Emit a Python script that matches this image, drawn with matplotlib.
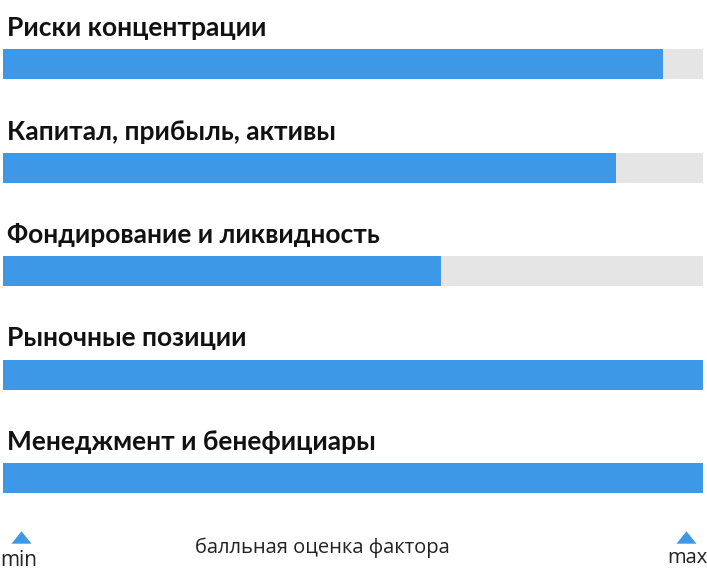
import matplotlib
matplotlib.use("Agg")
import matplotlib.pyplot as plt

# Factor scores (share of the maximum score)
factors = [
    "Риски концентрации",
    "Капитал, прибыль, активы",
    "Фондирование и ликвидность",
    "Рыночные позиции",
    "Менеджмент и бенефициары",
]
scores = [0.943, 0.876, 0.626, 1.0, 1.0]
score_max = 1.0

axis_caption = "балльная оценка фактора"
min_label = "min"
max_label = "max"

BLUE = "#3d99e8"
TRACK = "#e5e5e5"

W, H = 707, 576
fig = plt.figure(figsize=(W / 100, H / 100), dpi=100)
# axes spans the bar track horizontally; vertical units are pixels from the top
x0, x1 = 3, 703
ax = fig.add_axes([x0 / W, 0, (x1 - x0) / W, 1])
ax.set_xlim(0, score_max)
ax.set_ylim(H, 0)
ax.axis("off")


def px(x):
    """Horizontal pixel position -> axis units."""
    return (x - x0) / (x1 - x0) * score_max


bar_top0 = 49
step = 103.5
bar_h = 30

for i, (name, val) in enumerate(zip(factors, scores)):
    top = bar_top0 + i * step
    yc = top + bar_h / 2
    ax.barh(yc, score_max, height=bar_h, left=0, color=TRACK, edgecolor="none")
    ax.barh(yc, val, height=bar_h, left=0, color=BLUE, edgecolor="none")
    ax.text(px(7), top - 13, name, ha="left", va="baseline",
            fontsize=19, fontweight="bold", family=["Lato", "DejaVu Sans"],
            color="#111111")

# scale markers: triangles at both ends of the scale
tri = [(-1, -0.62), (1, -0.62), (0, 0.62)]
for xp in (21, 686):
    ax.plot([px(xp)], [536.5], marker=tri, markersize=14.4, color=BLUE,
            markeredgewidth=0, clip_on=False)

ax.text(px(19), 566, min_label, ha="center", va="baseline",
        fontsize=15, family=["Open Sans", "DejaVu Sans"], color="#222222")
ax.text(px(687), 563, max_label, ha="center", va="baseline",
        fontsize=14.5, family=["Open Sans", "DejaVu Sans"], color="#222222")
ax.text(px(322), 553, axis_caption, ha="center", va="baseline",
        fontsize=14.5, family=["Open Sans", "DejaVu Sans"], color="#222222")

fig.savefig("out.png", dpi=100)
